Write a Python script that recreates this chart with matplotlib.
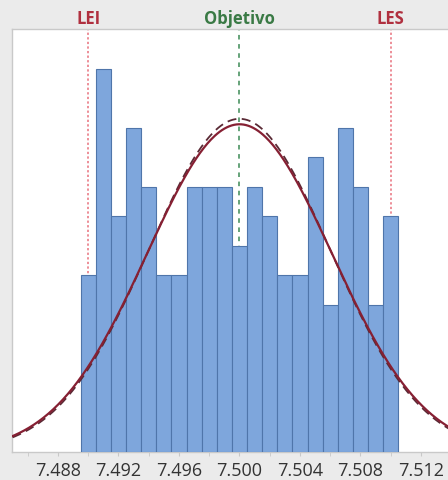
import numpy as np
import matplotlib
matplotlib.use("Agg")
import matplotlib.pyplot as plt

# Data
bin_left = 7.4895
bin_width = 0.001
counts = [6, 13, 8, 11, 9, 6, 6, 9, 9, 9, 7, 9, 8, 6, 6, 10, 5, 11, 9, 5, 8]
lei, objetivo, les = 7.490, 7.500, 7.510
spec_labels = ["LEI", "Objetivo", "LES"]
mean = 7.500
sigma_overall = 0.0061
sigma_within = 0.0060
tick_values = [7.488, 7.492, 7.496, 7.500, 7.504, 7.508, 7.512]
tick_labels = ["7.488", "7.492", "7.496", "7.500", "7.504", "7.508", "7.512"]

n = sum(counts)
edges = bin_left + bin_width * np.arange(len(counts) + 1)

fig = plt.figure(figsize=(4.48, 4.8), dpi=100, facecolor="#ebebeb")
ax = fig.add_axes([12/448, 28/480, 1.0, 423/480])
ax.set_facecolor("white")

ax.bar(edges[:-1], counts, width=bin_width, align="edge",
       color="#7ea6dc", edgecolor="#4f75aa", linewidth=0.8, zorder=3)

for xv, col, ls in [(lei, "#e8707c", (0, (1.5, 1.5))),
                    (objetivo, "#3c8a55", (0, (3, 3))),
                    (les, "#e8707c", (0, (1.5, 1.5)))]:
    ax.axvline(xv, color=col, linestyle=ls, linewidth=1.1, zorder=2)

xs = np.linspace(7.4840, 7.5160, 400)
def normal_counts(x, s):
    return n * bin_width / (s * np.sqrt(2 * np.pi)) * np.exp(-0.5 * ((x - mean) / s) ** 2)

ax.plot(xs, normal_counts(xs, sigma_within), color="#5a2a35", linestyle=(0, (5, 3)),
        linewidth=1.3, zorder=4)
ax.plot(xs, normal_counts(xs, sigma_overall), color="#862033", linewidth=1.6, zorder=5)

x0 = 7.488 - 46 / 15.125 * 0.001
x1 = x0 + 448 / 15.125 * 0.001
ax.set_xlim(x0, x1)
ax.set_ylim(0, 14.35)
ax.set_yticks([])
ax.set_xticks(tick_values)
ax.set_xticklabels(tick_labels, fontfamily="Open Sans", fontsize=13, color="#333333")
ax.set_xticks(np.arange(7.486, 7.5145, 0.002), minor=True)
ax.tick_params(axis="x", which="both", length=3, color="#c8c8c8", pad=4)

for s in ["top", "right", "left", "bottom"]:
    ax.spines[s].set_color("#c9c9c9")
    ax.spines[s].set_linewidth(1.0)

for xv, lab, col in [(lei, spec_labels[0], "#b0303f"),
                     (objetivo, spec_labels[1], "#3a7a45"),
                     (les, spec_labels[2], "#b0303f")]:
    ax.text(xv, 1.002, lab, transform=ax.get_xaxis_transform(), ha="center", va="bottom",
            fontfamily="Open Sans", fontweight="bold", fontsize=12, color=col)

fig.savefig("out.png", dpi=100, facecolor=fig.get_facecolor())
